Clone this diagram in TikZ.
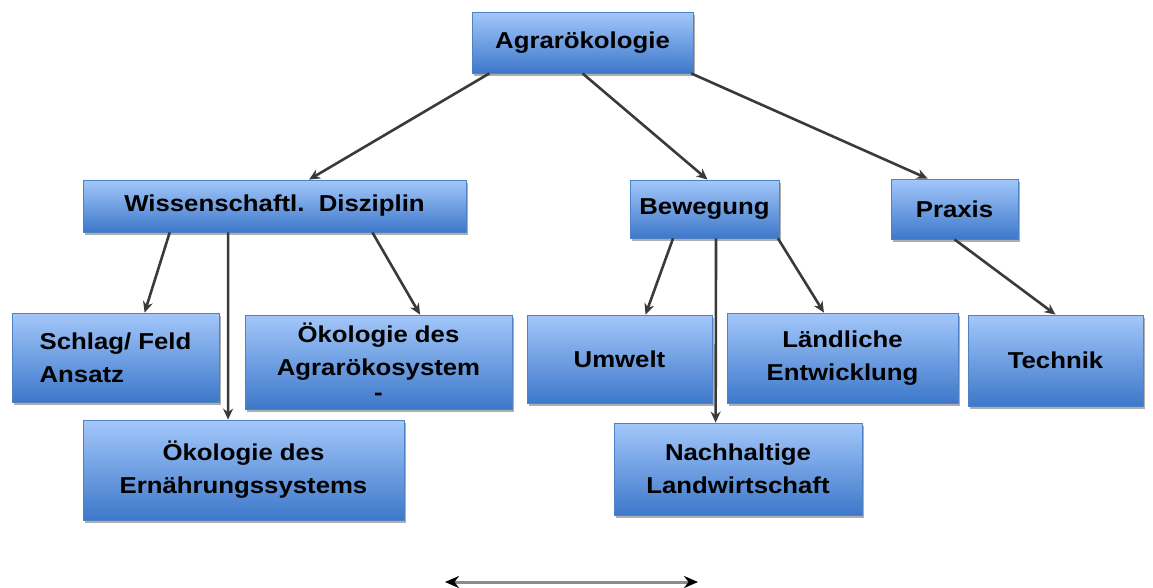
\documentclass[tikz,border=0pt]{standalone}
\usepackage{fontspec}
\setmainfont{Liberation Sans}[FakeStretch=1.12]
\usetikzlibrary{shadows,calc,arrows.meta}
\definecolor{boxtop}{HTML}{A3C7FA}
\definecolor{boxbot}{HTML}{3D78CA}
\definecolor{boxline}{HTML}{4F82C4}
\definecolor{linecol}{HTML}{3A3A3A}
\tikzset{
  box/.style={rectangle, draw=boxline, line width=0.8pt, top color=boxtop, bottom color=boxbot,
    font=\fontsize{23}{33}\selectfont\bfseries, text=black, align=center, inner sep=0pt,
    drop shadow={shadow xshift=2pt, shadow yshift=-3pt, opacity=0.45, fill=black!70}},
  conn/.style={draw=linecol, line width=2.6pt, -{Stealth[length=11pt,width=10pt]}},
  dbl/.style={draw=black!45, line width=3pt, {Stealth[length=14pt,width=12pt,black]}-{Stealth[length=14pt,width=12pt,black]}}
}
\begin{document}
\begin{tikzpicture}[x=1pt,y=-1pt]
\useasboundingbox (0,0) rectangle (1153,587);
\node[box, minimum width=221pt, minimum height=61pt] (agr) at (582.5,42.5) {Agrarökologie};
\node[box, minimum width=383pt, minimum height=52pt] (wiss) at (274.5,206) {Wissenschaftl.\ \ Disziplin};
\node[box, minimum width=149pt, minimum height=58pt] (bew) at (704.5,209) {Bewegung};
\node[box, minimum width=127pt, minimum height=60pt] (prax) at (954.5,209) {Praxis};
\node[box, minimum width=207pt, minimum height=89pt, align=left] (schlag) at (115.5,357.5) {Schlag/ Feld\\Ansatz};
\node[box, minimum width=267pt, minimum height=94pt] (oeka) at (378.5,362) {Ökologie des\\Agrarökosystem\\[-8pt]-};
\node[box, minimum width=321pt, minimum height=100pt] (oekb) at (243.5,470) {Ökologie des\\Ernährungssystems};
\node[box, minimum width=185pt, minimum height=88pt] (umw) at (619.5,359) {Umwelt};
\node[box, minimum width=231pt, minimum height=90pt] (laend) at (842.5,358) {Ländliche\\Entwicklung};
\node[box, minimum width=175pt, minimum height=91pt] (tech) at (1055.5,360.5) {Technik};
\node[box, minimum width=248pt, minimum height=92pt] (nach) at (738,469) {Nachhaltige\\Landwirtschaft};
\draw[conn] ($(agr.south west)!0.08!(agr.south east)$) -- ($(wiss.north west)!0.59!(wiss.north east)$);
\draw[conn] ($(agr.south west)!0.5!(agr.south east)$) -- ($(bew.north west)!0.52!(bew.north east)$);
\draw[conn] ($(agr.south west)!0.99!(agr.south east)$) -- ($(prax.north west)!0.29!(prax.north east)$);
\draw[conn] ($(wiss.south west)!0.227!(wiss.south east)$) -- ($(schlag.north west)!0.64!(schlag.north east)$);
\draw[conn] ($(wiss.south west)!0.379!(wiss.south east)$) -- ($(oekb.north west)!0.452!(oekb.north east)$);
\draw[conn] ($(wiss.south west)!0.755!(wiss.south east)$) -- ($(oeka.north west)!0.655!(oeka.north east)$);
\draw[conn] ($(bew.south west)!0.29!(bew.south east)$) -- ($(umw.north west)!0.64!(umw.north east)$);
\draw[conn] ($(bew.south west)!0.577!(bew.south east)$) -- ($(nach.north west)!0.41!(nach.north east)$);
\draw[conn] ($(bew.south west)!0.99!(bew.south east)$) -- ($(laend.north west)!0.42!(laend.north east)$);
\draw[conn] ($(prax.south west)!0.5!(prax.south east)$) -- ($(tech.north west)!0.5!(tech.north east)$);
\coordinate (dl) at (445,582);
\coordinate (dr) at (698,582);
\draw[dbl] (dl) -- (dr);
\end{tikzpicture}
\end{document}
